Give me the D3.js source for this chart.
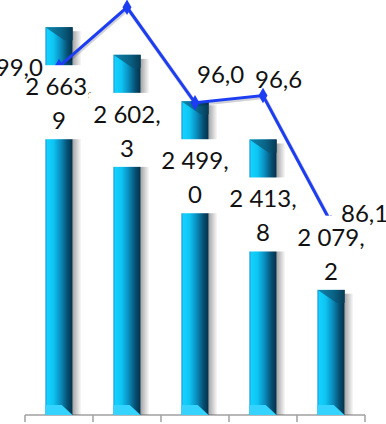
<!DOCTYPE html>
<html lang="ru">
<head>
    <meta charset="UTF-8">
    <title>Bars and line</title>
    <style>
        body { margin: 0; background: #fff; }
        .chart text { font: 24px Lato, sans-serif; fill: #111; }
        .axis path, .axis line { stroke: #a0a0a0; stroke-width: 1.5; fill: none; }
    </style>
</head>
<body>
<svg class="chart"></svg>
<script src="https://d3js.org/d3.v7.min.js"></script>
<script>

// values (category names are not shown on it)
var categories = ["1", "2", "3", "4", "5"];
var barValues = [2663.9, 2602.3, 2499.0, 2413.8, 2079.2];
var lineValues = [99.0, 103.9, 96.0, 96.6, 86.1];   // 2nd label is cut off above the plot

// where each label sits
var barLabelPos = ["inside", "inside", "inside", "inside", "outside"];
var lineLabelNudge = [[-16, 9, "end"], null, [2, -20, "start"], [-8, -8, "start"], [10, 0, "start"]];

var width = 386, height = 424;

var ru = d3.formatLocale({decimal: ",", thousands: " ", grouping: [3], currency: ["", ""]});
var fmtBar = ru.format(",.1f"),
    fmtLine = ru.format(".1f");

var x = d3.scaleBand().domain(categories).range([25, 365]);
var yBar = d3.scaleLinear().domain([1800, 2700]).range([415, 11]);
var yLine = d3.scaleLinear().domain([70, 105]).range([417, -6]);

var barW = x.bandwidth() * 0.4;
var cx = function(i) { return x(categories[i]) + x.bandwidth() / 2; };

var svg = d3.select(".chart")
    .attr("width", width)
    .attr("height", height);

var defs = svg.append("defs");

var g1 = defs.append("linearGradient").attr("id", "barGrad");
[[0, "#1b8fd0"], [0.07, "#12d2ff"], [0.3, "#0ec4f2"], [0.55, "#0a8fc0"], [0.8, "#065174"], [1, "#052f48"]]
    .forEach(function(s) { g1.append("stop").attr("offset", s[0]).attr("stop-color", s[1]); });

var g2 = defs.append("linearGradient").attr("id", "capGrad");
[[0, "#0f86ad"], [0.6, "#0a6285"], [1, "#053b56"]]
    .forEach(function(s) { g2.append("stop").attr("offset", s[0]).attr("stop-color", s[1]); });

var g3 = defs.append("linearGradient").attr("id", "shadowGrad");
[[0, "rgba(90,90,90,0.55)"], [1, "rgba(90,90,90,0)"]]
    .forEach(function(s) { g3.append("stop").attr("offset", s[0]).attr("stop-color", s[1]); });

// axis: baseline with ticks on category boundaries
var axis = svg.append("g").attr("class", "axis");
var y0 = yBar.range()[0];
axis.append("path").attr("d", "M" + x.range()[0] + "," + y0 + "H" + x.range()[1]);
axis.selectAll("line")
    .data(categories.map(function(c) { return x(c); }).concat([x.range()[1]]))
    .enter().append("line")
    .attr("x1", function(d) { return d; }).attr("x2", function(d) { return d; })
    .attr("y1", y0).attr("y2", y0 + 7);

// bars
var bar = svg.selectAll(".bar")
    .data(barValues)
    .enter().append("g")
    .attr("class", "bar");

bar.append("rect")
    .attr("x", function(d, i) { return cx(i) + barW / 2; })
    .attr("y", function(d) { return yBar(d) + 4; })
    .attr("width", 9)
    .attr("height", function(d) { return y0 - yBar(d) - 4; })
    .attr("fill", "url(#shadowGrad)");

bar.append("rect")
    .attr("x", function(d, i) { return cx(i) - barW / 2; })
    .attr("y", function(d) { return yBar(d); })
    .attr("width", barW)
    .attr("height", function(d) { return y0 - yBar(d); })
    .attr("fill", "url(#barGrad)");

bar.append("path")
    .attr("fill", "url(#capGrad)")
    .attr("d", function(d, i) {
        var x0 = cx(i) - barW / 2, x1 = cx(i) + barW / 2, t = yBar(d);
        return "M" + x0 + "," + t + "H" + x1 + "V" + (t + 13) + "H" + (x0 + barW * 0.7) + "Z";
    });

bar.append("path")
    .attr("fill", "#35d3ff")
    .attr("d", function(d, i) {
        var x0 = cx(i) - barW / 2, x1 = cx(i) + barW / 2;
        return "M" + x0 + "," + (y0 - 10) + "H" + (x0 + barW * 0.6) + "L" + x1 + "," + y0 + "H" + x0 + "Z";
    });

// line
var line = d3.line()
    .x(function(d, i) { return cx(i); })
    .y(function(d) { return yLine(d); });

svg.append("path")
    .datum(lineValues)
    .attr("d", line)
    .attr("transform", "translate(1,1.5)")
    .attr("fill", "none")
    .attr("stroke", "rgba(0,0,40,0.18)")
    .attr("stroke-width", 4);

svg.append("path")
    .datum(lineValues)
    .attr("d", line)
    .attr("fill", "none")
    .attr("stroke", "#1d3df2")
    .attr("stroke-width", 3);

svg.selectAll(".marker")
    .data(lineValues)
    .enter().append("path")
    .attr("class", "marker")
    .attr("d", d3.symbol(d3.symbolDiamond, 70))
    .attr("transform", function(d, i) { return "translate(" + cx(i) + "," + yLine(d) + ")"; })
    .attr("fill", "#1d3df2");

// bar labels on white boxes, wrapped after the decimal comma
var bl = svg.selectAll(".barLabel")
    .data(barValues)
    .enter().append("g")
    .attr("class", "barLabel")
    .attr("transform", function(d, i) {
        var top = barLabelPos[i] == "inside" ? yBar(d) + 38 : yBar(d) - 74;
        return "translate(" + cx(i) + "," + top + ")";
    });

bl.append("rect")
    .attr("x", -38).attr("width", 76)
    .attr("height", 74)
    .attr("fill", "#fff");

bl.append("text")
    .attr("text-anchor", "middle")
    .attr("y", 30)
    .text(function(d) { var s = fmtBar(d); return s.slice(0, s.indexOf(",") + 1); });

bl.append("text")
    .attr("text-anchor", "middle")
    .attr("y", 64)
    .text(function(d) { var s = fmtBar(d); return s.slice(s.indexOf(",") + 1); });

// line labels
svg.selectAll(".lineLabel")
    .data(lineValues.filter(function(d, i) { return lineLabelNudge[i]; }))
    .enter().append("text")
    .attr("class", "lineLabel")
    .each(function(d) {
        var i = lineValues.indexOf(d), n = lineLabelNudge[i];
        d3.select(this)
            .attr("x", cx(i) + n[0])
            .attr("y", yLine(d) + n[1])
            .attr("text-anchor", n[2])
            .text(fmtLine(d));
    });

</script>
</body>
</html>
